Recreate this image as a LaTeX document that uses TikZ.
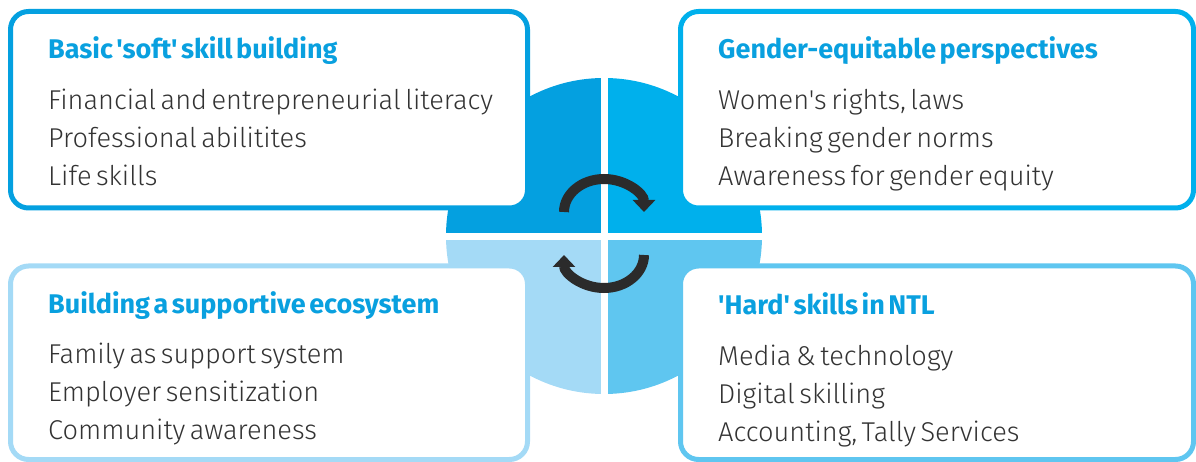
\documentclass[tikz,border=0pt]{standalone}
\usepackage{fontspec}
\usetikzlibrary{arrows.meta}
\newfontfamily\bodyfont{Fira Sans Light}[WordSpace=0.6]
\newfontfamily\titlefont{Fira Sans Bold}[WordSpace=0.55]
\definecolor{qtl}{HTML}{04A0E0}
\definecolor{qtr}{HTML}{00B0EC}
\definecolor{qbl}{HTML}{A4DAF6}
\definecolor{qbr}{HTML}{5FC6F0}
\definecolor{ttl}{HTML}{09A0DF}
\definecolor{bodyc}{HTML}{333333}
\definecolor{arrc}{HTML}{2B2B2B}
\tikzset{
  x=1pt,y=-1pt,
  panel/.style={draw=#1, line width=5pt, fill=white, rounded corners=18pt, inner sep=0pt, outer sep=0pt},
  ttext/.style={anchor=base west, inner sep=0pt, text=ttl, font=\titlefont\fontsize{27}{30}\selectfont},
  btext/.style={anchor=base west, inner sep=0pt, text=bodyc, font=\bodyfont\fontsize{27.2}{30}\selectfont},
  cyc/.style={draw=arrc, line width=10pt, -{Triangle[width=22pt,length=12pt]}},
  gap/.style={draw=white, line width=7pt}
}
\begin{document}
\begin{tikzpicture}
\useasboundingbox (0,0) rectangle (1196,462);
% central disc in four quadrants
\coordinate (c) at (604,236);
\fill[qtl] (c) -- ++(180:158pt) arc[start angle=180,end angle=90,radius=158pt] -- cycle;
\fill[qtr] (c) -- ++(90:158pt) arc[start angle=90,end angle=0,radius=158pt] -- cycle;
\fill[qbr] (c) -- ++(0:158pt) arc[start angle=0,end angle=-90,radius=158pt] -- cycle;
\fill[qbl] (c) -- ++(-90:158pt) arc[start angle=-90,end angle=-180,radius=158pt] -- cycle;
\coordinate (hl) at (440,236.3);
\coordinate (hr) at (770,236.3);
\coordinate (vt) at (604.7,70);
\coordinate (vb) at (604.7,400);
\draw[gap] (hl) -- (hr);
\draw[gap] (vt) -- (vb);
% panels
\node[panel=qtl, minimum width=517pt, minimum height=196.5pt] (tl) at (269,109.75) {};
\node[panel=qtr, minimum width=513pt, minimum height=196.5pt] (tr) at (937,109.75) {};
\node[panel=qbl, minimum width=517pt, minimum height=193.5pt] (bl) at (269,362.75) {};
\node[panel=qbr, minimum width=513pt, minimum height=193.5pt] (br) at (937,362.75) {};
% cycle arrows
\coordinate (a1) at (564,212);
\coordinate (a2) at (644,255);
\draw[cyc] (a1) arc[start angle=180,end angle=0,x radius=40pt,y radius=33pt];
\draw[cyc] (a2) arc[start angle=0,end angle=-180,x radius=40pt,y radius=33pt];
% texts
\node[ttext] (t1) at (48,59) {Basic 'soft' skill building};
\node[btext] (t1a) at (48,110) {Financial and entrepreneurial literacy};
\node[btext] (t1b) at (48,148) {Professional abilitites};
\node[btext] (t1c) at (48,186) {Life skills};
\node[ttext] (t2) at (718,59) {Gender-equitable perspectives};
\node[btext] (t2a) at (718,110) {Women's rights, laws};
\node[btext] (t2b) at (718,148) {Breaking gender norms};
\node[btext] (t2c) at (718,186) {Awareness for gender equity};
\node[ttext] (t3) at (48,313) {Building a supportive ecosystem};
\node[btext] (t3a) at (48,363) {Family as support system};
\node[btext] (t3b) at (48,401) {Employer sensitization};
\node[btext] (t3c) at (48,439) {Community awareness};
\node[ttext] (t4) at (718,314) {'Hard' skills in NTL};
\node[btext] (t4a) at (718,365) {Media \& technology};
\node[btext] (t4b) at (718,403) {Digital skilling};
\node[btext] (t4c) at (718,441) {Accounting, Tally Services};
\end{tikzpicture}
\end{document}
